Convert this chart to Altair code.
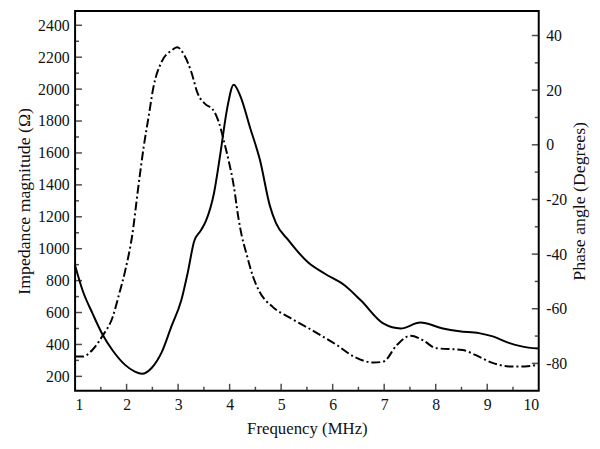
import altair as alt
import pandas as pd

# Impedance magnitude (solid line, left axis)
freq_z = [1.0, 1.15, 1.34, 1.53, 1.73, 1.97, 2.16, 2.3, 2.49, 2.68, 2.87, 3.06, 3.19, 3.31,
          3.44, 3.54, 3.7, 3.82, 3.95, 4.08, 4.21, 4.4, 4.59, 4.78, 4.9, 5.14, 5.52, 5.85,
          6.23, 6.55, 6.99, 7.32, 7.7, 8.14, 8.46, 8.84, 9.09, 9.42, 9.8, 10.0]
impedance = [895, 735, 593, 464, 362, 272, 230, 216, 254, 350, 513, 675, 855, 1045,
             1114, 1174, 1354, 1595, 1875, 2028, 1955, 1755, 1554, 1270, 1160, 1054, 915, 843,
             771, 675, 530, 500, 537, 500, 483, 471, 452, 410, 380, 375]

# Phase angle (dash-dot line, right axis)
freq_p = [1.0, 1.15, 1.34, 1.53, 1.73, 1.85, 1.98, 2.11, 2.23, 2.33, 2.43, 2.52, 2.68, 2.87,
          2.98, 3.12, 3.25, 3.38, 3.54, 3.67, 3.79, 3.89, 3.98, 4.08, 4.17, 4.24, 4.32, 4.45,
          4.57, 4.84, 5.14, 5.52, 6.09, 6.42, 6.8, 6.99, 7.24, 7.51, 7.76, 8.0, 8.52, 8.77,
          9.09, 9.42, 9.73, 10.0]
phase = [-77.5, -77.5, -75, -70, -63, -55, -45.5, -33, -15, -1, 10.6, 21, 30.4, 34.5,
         35.7, 32.8, 27, 18.8, 14.7, 13, 8.3, 1.3, -5.7, -15, -26.7, -33.7, -39.4, -48,
         -53.4, -59.4, -63, -67, -73.4, -77.6, -79.7, -79.3, -73.4, -69.9, -71.6, -74.4, -75.1, -76.9,
         -79.7, -81.1, -81.1, -80.4]

z_ticks = [200, 400, 600, 800, 1000, 1200, 1400, 1600, 1800, 2000, 2200, 2400]
z_minor = [300, 500, 700, 900, 1100, 1300, 1500, 1700, 1900, 2100, 2300]
p_ticks = [-80, -60, -40, -20, 0, 20, 40]
p_minor = [-70, -50, -30, -10, 10, 30]
f_labels = [1, 2, 3, 4, 5, 6, 7, 8, 9, 10]
f_ticks = [2, 3, 4, 5, 6, 7, 8, 9]
f_minor = [1.5, 2.5, 3.5, 4.5, 5.5, 6.5, 7.5, 8.5, 9.5]

FONT = "Liberation Serif"
xs = alt.Scale(domain=[1, 10], nice=False, zero=False)
zs = alt.Scale(domain=[110, 2490], nice=False, zero=False)
ps = alt.Scale(domain=[-90, 49], nice=False, zero=False)

LBL = "'' + datum.value"
x_axis = alt.Axis(values=f_labels, labelExpr=LBL, title="Frequency (MHz)",
                  labelPadding=6, titlePadding=8, labelOverlap=False)
z_axis = alt.Axis(orient="left", values=z_ticks, labelExpr=LBL, title="Impedance magnitude (Ω)",
                  labelPadding=6, titlePadding=4, titleFontSize=18, labelOverlap=False)
p_axis = alt.Axis(orient="right", values=p_ticks, labelExpr=LBL, title="Phase angle (Degrees)",
                  labelPadding=7, titlePadding=4, titleFontSize=18, titleAngle=270,
                  titleBaseline="top", labelOverlap=False)

df_z = pd.DataFrame({"f": freq_z, "z": impedance})
df_p = pd.DataFrame({"f": freq_p, "p": phase})

imp_line = alt.Chart(df_z).mark_line(color="black", strokeWidth=2, interpolate="monotone").encode(
    x=alt.X("f:Q", scale=xs, axis=x_axis),
    y=alt.Y("z:Q", scale=zs, axis=z_axis),
)


def ytick(vals, scale, axis, xdat, size, off):
    return alt.Chart(pd.DataFrame({"v": vals})).mark_tick(
        orient="horizontal", size=size, thickness=1.5, xOffset=off, color="black"
    ).encode(x=alt.XDatum(xdat, scale=xs, axis=x_axis, type="quantitative"),
             y=alt.Y("v:Q", scale=scale, axis=axis))


def xtick(vals, size):
    return alt.Chart(pd.DataFrame({"v": vals})).mark_tick(
        orient="vertical", size=size, thickness=1.5, yOffset=-size / 2, color="black"
    ).encode(x=alt.X("v:Q", scale=xs, axis=x_axis),
             y=alt.YDatum(110, scale=zs, axis=z_axis, type="quantitative"))


left_group = alt.layer(
    imp_line,
    ytick(z_ticks, zs, z_axis, 1, 7, 3.5),
    ytick(z_minor, zs, z_axis, 1, 4, 2),
    xtick(f_ticks, 7),
    xtick(f_minor, 4),
)

ph_line = alt.Chart(df_p).mark_line(color="black", strokeWidth=2, strokeDash=[9, 3, 2, 3],
                                    interpolate="monotone").encode(
    x=alt.X("f:Q", scale=xs, axis=x_axis),
    y=alt.Y("p:Q", scale=ps, axis=p_axis),
)

right_group = alt.layer(
    ph_line,
    ytick(p_ticks, ps, p_axis, 10, 7, -3.5),
    ytick(p_minor, ps, p_axis, 10, 4, -2),
)

chart = alt.layer(left_group, right_group).resolve_scale(y="independent").properties(
    width=470, height=385,
    autosize=alt.AutoSizeParams(type="none"),
    padding={"left": 68, "top": 0, "right": 54, "bottom": 48},
).configure_view(stroke="black", strokeWidth=2).configure_axis(
    domain=False, ticks=False, grid=False, labelOverlap=False,
    labelFont=FONT, labelFontSize=16, labelColor="#111",
    titleFont=FONT, titleFontSize=17, titleColor="#111", titleFontWeight="normal",
)

chart.save("out.html", embed_options={"renderer": "svg", "actions": False})
